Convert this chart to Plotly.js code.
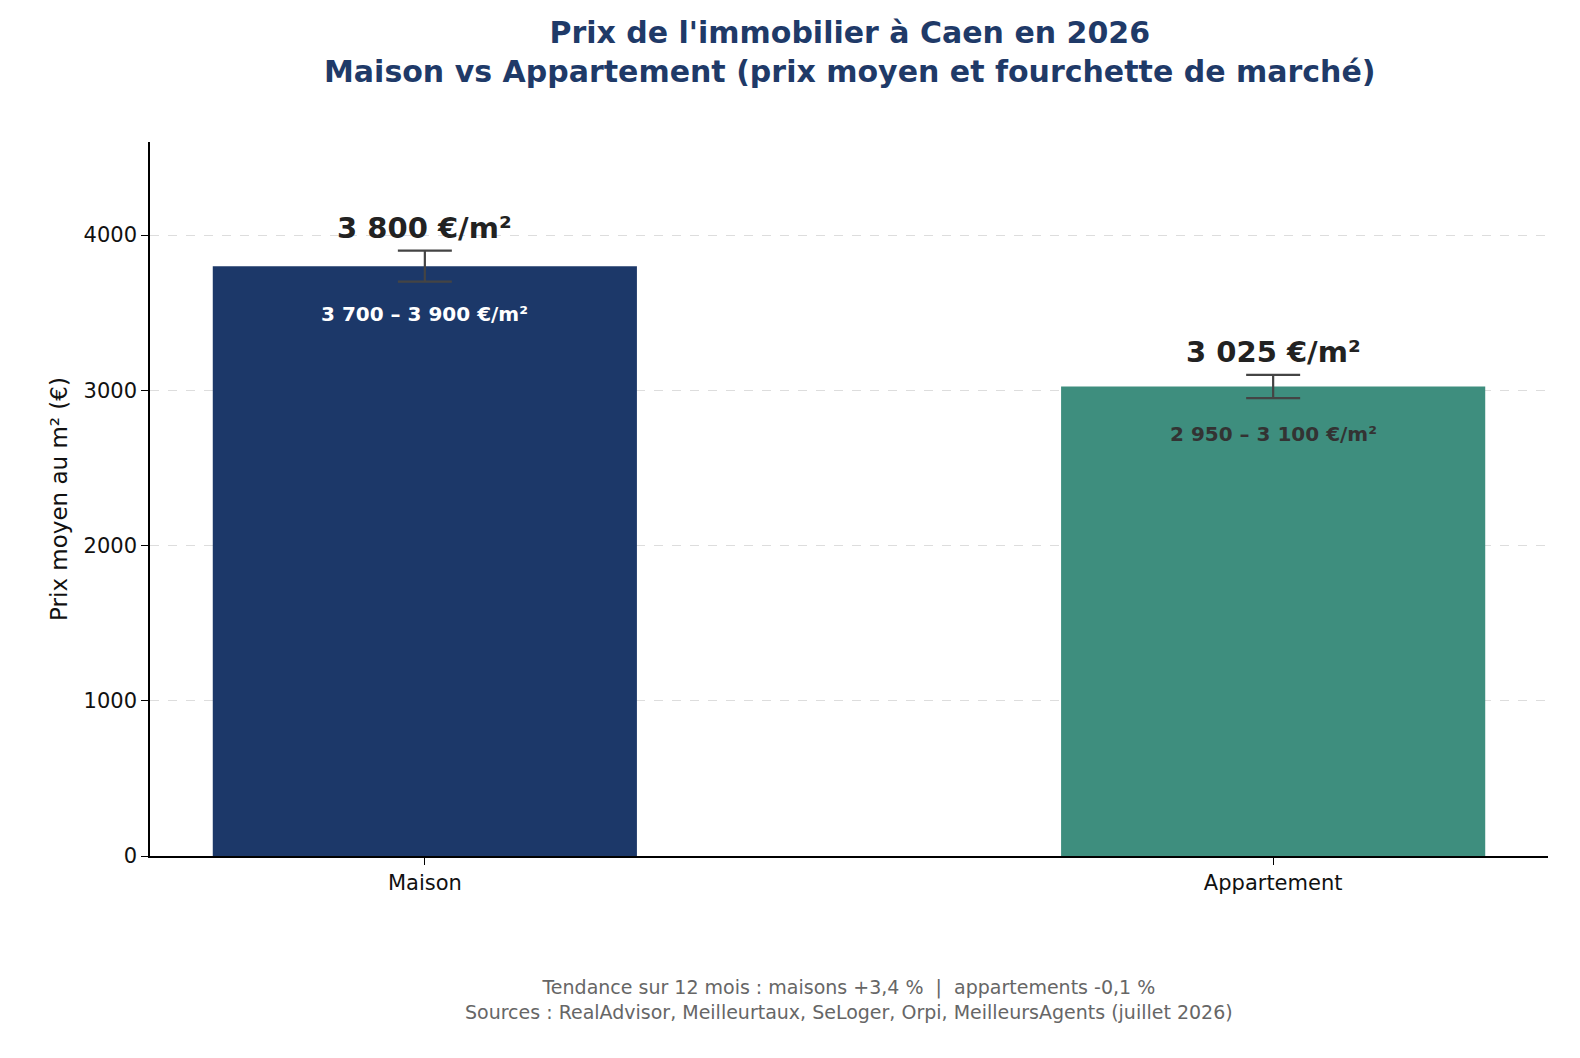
<!DOCTYPE html>
<html><head><meta charset="utf-8">
<script src="https://cdn.plot.ly/plotly-3.0.1.min.js"></script>
<style>body{margin:0}</style></head>
<body><div id="chart" style="width:1580px;height:1058px"></div>
<script>
var categories = ['Maison', 'Appartement'];
var meanPrices = [3800, 3025];
var lowPrices = [3700, 2950];
var highPrices = [3900, 3100];
var meanLabels = ['3 800 €/m²', '3 025 €/m²'];
var rangeLabels = ['3 700 – 3 900 €/m²', '2 950 – 3 100 €/m²'];
var barColors = ['#1c3869', '#3e8e7e'];
var rangeColors = ['#ffffff', '#333333'];

var font = "DejaVu Sans, sans-serif";

var trace = {
    type: 'bar',
    x: categories,
    y: meanPrices,
    width: 0.5,
    marker: { color: barColors },
    error_y: {
        type: 'data', symmetric: false,
        array: highPrices.map(function(h, i) { return h - meanPrices[i]; }),
        arrayminus: meanPrices.map(function(m, i) { return m - lowPrices[i]; }),
        color: '#444', thickness: 2.2, width: 27
    },
    hoverinfo: 'x+y'
};

var annotations = [];
categories.forEach(function(c, i) {
    annotations.push({ x: c, y: highPrices[i], yanchor: 'bottom', yshift: 4, text: '<b>' + meanLabels[i] + '</b>',
        showarrow: false, font: { family: font, size: 29, color: '#222' } });
    annotations.push({ x: c, y: meanPrices[i], yanchor: 'top', yshift: -34, text: '<b>' + rangeLabels[i] + '</b>',
        showarrow: false, font: { family: font, size: 20, color: rangeColors[i] } });
});
annotations.push({ xref: 'paper', yref: 'paper', x: 0.5, y: -0.165, yanchor: 'top', showarrow: false,
    text: 'Tendance sur 12 mois : maisons +3,4 %  |  appartements -0,1 %<br>Sources : RealAdvisor, Meilleurtaux, SeLoger, Orpi, MeilleursAgents (juillet 2026)',
    font: { family: font, size: 19, color: '#666' } });
annotations.push({ xref: 'paper', yref: 'paper', x: 0.5, y: 1.18, yanchor: 'top', showarrow: false,
    text: "<b>Prix de l'immobilier à Caen en 2026<br>Maison vs Appartement (prix moyen et fourchette de marché)</b>",
    font: { family: font, size: 30, color: '#1f3a68' } });

var layout = {
    font: { family: font, size: 20, color: '#111' },
    paper_bgcolor: '#fff', plot_bgcolor: '#fff',
    margin: { t: 142, r: 32, b: 202, l: 150 },
    showlegend: false,
    xaxis: { range: [-0.324, 1.324], showline: true, linecolor: '#000', linewidth: 1.5,
        ticks: 'outside', ticklen: 7, tickcolor: '#000', tickfont: { size: 21 } },
    yaxis: { range: [0, 4600], dtick: 1000, showline: true, linecolor: '#000', linewidth: 1.5,
        ticks: 'outside', ticklen: 7, tickcolor: '#000', tickfont: { size: 21 },
        showgrid: true, gridcolor: '#dddddd', griddash: 'dash', zeroline: false,
        title: { text: 'Prix moyen au m² (€)', font: { size: 23 }, standoff: 10 } },
    annotations: annotations
};

Plotly.newPlot('chart', [trace], layout, { displayModeBar: false });
</script></body></html>
